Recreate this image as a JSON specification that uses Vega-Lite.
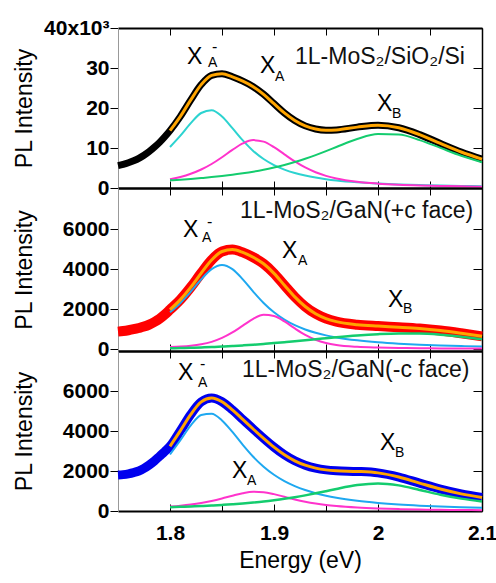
{
  "$schema": "https://vega.github.io/schema/vega-lite/v6.json",
  "padding": {"left": 13, "top": 17, "right": 5, "bottom": 5},
  "spacing": 0,
  "bounds": "flush",
  "config": {
    "view": {"stroke": null},
    "font": "Liberation Sans",
    "axis": {"labelFont": "Liberation Sans", "labelFontSize": 21, "labelFontWeight": "bold", "labelColor": "#000", "titleFont": "Liberation Sans", "titleFontSize": 23, "titleFontWeight": "normal", "titleColor": "#000", "tickColor": "#000", "grid": false, "labelOverlap": false, "labelFlush": false}
  },
  "datasets": {
    "p1": [
      {"e": 1.75, "data": 5600}, {"e": 1.755, "data": 5900}, {"e": 1.76, "data": 6300}, {"e": 1.765, "data": 6800}, {"e": 1.77, "data": 7400}, {"e": 1.775, "data": 8200}, {"e": 1.78, "data": 9100}, {"e": 1.785, "data": 10200}, {"e": 1.79, "data": 11400}, {"e": 1.795, "data": 12800},
      {"e": 1.80, "data": 14330, "fit": 14330, "xam": 10250, "xa": 2170, "xb": 1910},
      {"e": 1.81, "data": 17910, "fit": 17910, "xam": 13090, "xa": 2750, "xb": 2070},
      {"e": 1.82, "data": 22030, "fit": 22030, "xam": 16220, "xa": 3550, "xb": 2260},
      {"e": 1.83, "data": 25850, "fit": 25850, "xam": 18750, "xa": 4620, "xb": 2480},
      {"e": 1.84, "data": 28170, "fit": 28170, "xam": 19450, "xa": 6000, "xb": 2720},
      {"e": 1.85, "data": 28570, "fit": 28570, "xam": 17890, "xa": 7680, "xb": 3000},
      {"e": 1.86, "data": 27800, "fit": 27800, "xam": 14970, "xa": 9520, "xb": 3310},
      {"e": 1.87, "data": 26710, "fit": 26710, "xam": 11890, "xa": 11140, "xb": 3680},
      {"e": 1.88, "data": 25330, "fit": 25330, "xam": 9270, "xa": 11970, "xb": 4090},
      {"e": 1.89, "data": 23420, "fit": 23420, "xam": 7250, "xa": 11600, "xb": 4570},
      {"e": 1.90, "data": 21080, "fit": 21080, "xam": 5730, "xa": 10220, "xb": 5130},
      {"e": 1.91, "data": 18770, "fit": 18770, "xam": 4600, "xa": 8410, "xb": 5760},
      {"e": 1.92, "data": 16870, "fit": 16870, "xam": 3750, "xa": 6640, "xb": 6480},
      {"e": 1.93, "data": 15530, "fit": 15530, "xam": 3100, "xa": 5130, "xb": 7300},
      {"e": 1.94, "data": 14760, "fit": 14760, "xam": 2600, "xa": 3940, "xb": 8220},
      {"e": 1.95, "data": 14460, "fit": 14460, "xam": 2210, "xa": 3040, "xb": 9210},
      {"e": 1.96, "data": 14520, "fit": 14520, "xam": 1890, "xa": 2380, "xb": 10250},
      {"e": 1.98, "data": 15220, "fit": 15220, "xam": 1430, "xa": 1550, "xb": 12240},
      {"e": 2.00, "data": 15690, "fit": 15690, "xam": 1120, "xa": 1090, "xb": 13480},
      {"e": 2.02, "data": 15060, "fit": 15060, "xam": 900, "xa": 810, "xb": 13350},
      {"e": 2.04, "data": 13350, "fit": 13350, "xam": 740, "xa": 630, "xb": 11980},
      {"e": 2.06, "data": 11140, "fit": 11140, "xam": 610, "xa": 510, "xb": 10020},
      {"e": 2.08, "data": 9000, "fit": 9000, "xam": 520, "xa": 410, "xb": 8070},
      {"e": 2.10, "data": 7200, "fit": 7200, "xam": 440, "xa": 340, "xb": 6420}
    ],
    "p2": [
      {"e": 1.75, "data": 870}, {"e": 1.755, "data": 900}, {"e": 1.76, "data": 940}, {"e": 1.765, "data": 990}, {"e": 1.77, "data": 1050}, {"e": 1.775, "data": 1120}, {"e": 1.78, "data": 1220}, {"e": 1.785, "data": 1350}, {"e": 1.79, "data": 1510}, {"e": 1.795, "data": 1720},
      {"e": 1.80, "data": 1965, "fit": 1965, "xam": 1833, "xa": 94, "xb": 38},
      {"e": 1.81, "data": 2468, "fit": 2468, "xam": 2300, "xa": 119, "xb": 49},
      {"e": 1.82, "data": 3091, "fit": 3091, "xam": 2867, "xa": 162, "xb": 62},
      {"e": 1.83, "data": 3795, "fit": 3795, "xam": 3481, "xa": 235, "xb": 79},
      {"e": 1.84, "data": 4451, "fit": 4451, "xam": 3994, "xa": 358, "xb": 99},
      {"e": 1.85, "data": 4875, "fit": 4875, "xam": 4200, "xa": 553, "xb": 122},
      {"e": 1.86, "data": 4971, "fit": 4971, "xam": 3994, "xa": 828, "xb": 149},
      {"e": 1.87, "data": 4829, "fit": 4829, "xam": 3481, "xa": 1168, "xb": 180},
      {"e": 1.88, "data": 4587, "fit": 4587, "xam": 2867, "xa": 1505, "xb": 215},
      {"e": 1.89, "data": 4261, "fit": 4261, "xam": 2300, "xa": 1707, "xb": 254},
      {"e": 1.90, "data": 3782, "fit": 3782, "xam": 1833, "xa": 1653, "xb": 296},
      {"e": 1.91, "data": 3189, "fit": 3189, "xam": 1469, "xa": 1378, "xb": 342},
      {"e": 1.92, "data": 2606, "fit": 2606, "xam": 1189, "xa": 1027, "xb": 390},
      {"e": 1.93, "data": 2123, "fit": 2123, "xam": 975, "xa": 708, "xb": 440},
      {"e": 1.94, "data": 1765, "fit": 1765, "xam": 810, "xa": 465, "xb": 490},
      {"e": 1.95, "data": 1523, "fit": 1523, "xam": 681, "xa": 302, "xb": 540},
      {"e": 1.96, "data": 1369, "fit": 1369, "xam": 579, "xa": 201, "xb": 589},
      {"e": 1.98, "data": 1216, "fit": 1216, "xam": 432, "xa": 108, "xb": 676},
      {"e": 2.00, "data": 1145, "fit": 1145, "xam": 333, "xa": 71, "xb": 741},
      {"e": 2.02, "data": 1091, "fit": 1091, "xam": 264, "xa": 51, "xb": 776},
      {"e": 2.04, "data": 1025, "fit": 1025, "xam": 214, "xa": 39, "xb": 772},
      {"e": 2.06, "data": 922, "fit": 922, "xam": 177, "xa": 30, "xb": 715},
      {"e": 2.08, "data": 786, "fit": 786, "xam": 148, "xa": 24, "xb": 614},
      {"e": 2.10, "data": 634, "fit": 634, "xam": 126, "xa": 20, "xb": 488}
    ],
    "p3": [
      {"e": 1.75, "data": 1800}, {"e": 1.755, "data": 1820}, {"e": 1.76, "data": 1860}, {"e": 1.765, "data": 1920}, {"e": 1.77, "data": 2000}, {"e": 1.775, "data": 2130}, {"e": 1.78, "data": 2300}, {"e": 1.785, "data": 2500}, {"e": 1.79, "data": 2740}, {"e": 1.795, "data": 2980},
      {"e": 1.80, "data": 3234, "fit": 3234, "xam": 2825, "xa": 219, "xb": 190},
      {"e": 1.81, "data": 4017, "fit": 4017, "xam": 3543, "xa": 266, "xb": 208},
      {"e": 1.82, "data": 4833, "fit": 4833, "xam": 4279, "xa": 326, "xb": 228},
      {"e": 1.83, "data": 5456, "fit": 5456, "xam": 4802, "xa": 404, "xb": 250},
      {"e": 1.84, "data": 5648, "fit": 5648, "xam": 4868, "xa": 504, "xb": 276},
      {"e": 1.85, "data": 5463, "fit": 5463, "xam": 4530, "xa": 627, "xb": 306},
      {"e": 1.86, "data": 5057, "fit": 5057, "xam": 3952, "xa": 765, "xb": 340},
      {"e": 1.87, "data": 4578, "fit": 4578, "xam": 3308, "xa": 891, "xb": 379},
      {"e": 1.88, "data": 4099, "fit": 4099, "xam": 2713, "xa": 961, "xb": 425},
      {"e": 1.89, "data": 3632, "fit": 3632, "xam": 2213, "xa": 942, "xb": 477},
      {"e": 1.90, "data": 3194, "fit": 3194, "xam": 1811, "xa": 844, "xb": 539},
      {"e": 1.91, "data": 2812, "fit": 2812, "xam": 1493, "xa": 710, "xb": 609},
      {"e": 1.92, "data": 2510, "fit": 2510, "xam": 1244, "xa": 576, "xb": 690},
      {"e": 1.93, "data": 2291, "fit": 2291, "xam": 1047, "xa": 462, "xb": 782},
      {"e": 1.94, "data": 2144, "fit": 2144, "xam": 890, "xa": 371, "xb": 883},
      {"e": 1.95, "data": 2056, "fit": 2056, "xam": 764, "xa": 300, "xb": 992},
      {"e": 1.96, "data": 2012, "fit": 2012, "xam": 662, "xa": 246, "xb": 1104},
      {"e": 1.98, "data": 1979, "fit": 1979, "xam": 509, "xa": 171, "xb": 1299},
      {"e": 2.00, "data": 1906, "fit": 1906, "xam": 402, "xa": 124, "xb": 1380},
      {"e": 2.02, "data": 1699, "fit": 1699, "xam": 324, "xa": 94, "xb": 1281},
      {"e": 2.04, "data": 1394, "fit": 1394, "xam": 267, "xa": 73, "xb": 1054},
      {"e": 2.06, "data": 1097, "fit": 1097, "xam": 224, "xa": 59, "xb": 814},
      {"e": 2.08, "data": 856, "fit": 856, "xam": 190, "xa": 48, "xb": 618},
      {"e": 2.10, "data": 674, "fit": 674, "xam": 163, "xa": 40, "xb": 471}
    ],
    "ann": [
      {"p": 1, "k": "main", "t": "X", "e": 1.8163, "i": 31000},
      {"p": 1, "k": "sub", "t": "A", "e": 1.8365, "i": 30300},
      {"p": 1, "k": "sup", "t": "-", "e": 1.8404, "i": 34000},
      {"p": 1, "k": "main", "t": "X", "e": 1.8865, "i": 28800},
      {"p": 1, "k": "sub", "t": "A", "e": 1.901, "i": 26800},
      {"p": 1, "k": "main", "t": "X", "e": 1.999, "i": 19300},
      {"p": 1, "k": "sub", "t": "B", "e": 2.0135, "i": 17600},
      {"p": 1, "k": "label", "t": "1L-MoS₂/SiO₂/Si", "e": 1.9202, "i": 30900},
      {"p": 2, "k": "main", "t": "X", "e": 1.8125, "i": 5585},
      {"p": 2, "k": "sub", "t": "A", "e": 1.8308, "i": 5335},
      {"p": 2, "k": "sup", "t": "-", "e": 1.8356, "i": 6125},
      {"p": 2, "k": "main", "t": "X", "e": 1.9077, "i": 4535},
      {"p": 2, "k": "sub", "t": "A", "e": 1.9231, "i": 4185},
      {"p": 2, "k": "main", "t": "X", "e": 2.0096, "i": 2085},
      {"p": 2, "k": "sub", "t": "B", "e": 2.024, "i": 1785},
      {"p": 2, "k": "label", "t": "1L-MoS₂/GaN(+c face)", "e": 1.8673, "i": 6535},
      {"p": 3, "k": "main", "t": "X", "e": 1.8077, "i": 6550},
      {"p": 3, "k": "sub", "t": "A", "e": 1.8269, "i": 6200},
      {"p": 3, "k": "sup", "t": "-", "e": 1.8288, "i": 7100},
      {"p": 3, "k": "main", "t": "X", "e": 1.8596, "i": 1650},
      {"p": 3, "k": "sub", "t": "A", "e": 1.874, "i": 1300},
      {"p": 3, "k": "main", "t": "X", "e": 2.0019, "i": 3050},
      {"p": 3, "k": "sub", "t": "B", "e": 2.0163, "i": 2700},
      {"p": 3, "k": "label", "t": "1L-MoS₂/GaN(-c face)", "e": 1.8692, "i": 6700}
    ]
  },
  "vconcat": [
    {
      "width": 364, "height": 160,
      "layer": [
        {"data": {"name": "p1"}, "mark": {"type": "line", "color": "#000000", "strokeWidth": 7, "interpolate": "monotone"},
         "encoding": {
           "x": {"field": "e", "type": "quantitative", "scale": {"domain": [1.75, 2.1], "nice": false, "zero": false},
                 "axis": {"orient": "bottom", "values": [1.8, 1.85, 1.9, 1.95, 2, 2.05, 2.1], "labels": false, "tickSize": -7, "title": null, "domainColor": "#000", "domainWidth": 2}},
           "y": {"field": "data", "type": "quantitative", "scale": {"domain": [0, 40000], "nice": false, "zero": false},
                 "axis": {"orient": "left", "values": [0, 10000, 20000, 30000, 40000], "labelExpr": "datum.value == 40000 ? '40x10³' : format(datum.value/1000, 'd')", "tickSize": 8, "labelPadding": 1, "domainColor": "#999", "title": "PL Intensity", "titleX": -82}}
         }},
        {"data": {"name": "p1"}, "mark": {"type": "line", "color": "#2CD3D0", "strokeWidth": 2, "interpolate": "monotone"},
         "encoding": {"x": {"field": "e", "type": "quantitative", "axis": null}, "y": {"field": "xam", "type": "quantitative", "axis": null}}},
        {"data": {"name": "p1"}, "mark": {"type": "line", "color": "#FF33CC", "strokeWidth": 2, "interpolate": "monotone"},
         "encoding": {"x": {"field": "e", "type": "quantitative", "axis": null}, "y": {"field": "xa", "type": "quantitative", "axis": null}}},
        {"data": {"name": "p1"}, "mark": {"type": "line", "color": "#14CC6E", "strokeWidth": 2, "interpolate": "monotone"},
         "encoding": {"x": {"field": "e", "type": "quantitative", "axis": null}, "y": {"field": "xb", "type": "quantitative", "axis": null}}},
        {"data": {"name": "p1"}, "mark": {"type": "line", "color": "#FFA500", "strokeWidth": 3, "interpolate": "monotone"},
         "encoding": {
           "x": {"field": "e", "type": "quantitative", "axis": {"orient": "top", "values": [1.8, 1.85, 1.9, 1.95, 2, 2.05, 2.1], "labels": false, "tickSize": -7, "title": null, "domainColor": "#000", "domainWidth": 2}},
           "y": {"field": "fit", "type": "quantitative", "axis": {"orient": "right", "values": [0, 10000, 20000, 30000, 40000], "labels": false, "tickSize": -9, "title": null, "domainColor": "#000", "domainWidth": 1.5}}
         }},
        {"data": {"name": "ann"}, "transform": [{"filter": "datum.p == 1 && datum.k == 'main'"}], "mark": {"type": "text", "fontSize": 23, "align": "left", "baseline": "alphabetic", "color": "#000"},
         "encoding": {"x": {"field": "e", "type": "quantitative", "axis": null}, "y": {"field": "i", "type": "quantitative", "axis": null}, "text": {"field": "t"}}},
        {"data": {"name": "ann"}, "transform": [{"filter": "datum.p == 1 && datum.k == 'sub'"}], "mark": {"type": "text", "fontSize": 14, "align": "left", "baseline": "alphabetic", "color": "#000"},
         "encoding": {"x": {"field": "e", "type": "quantitative", "axis": null}, "y": {"field": "i", "type": "quantitative", "axis": null}, "text": {"field": "t"}}},
        {"data": {"name": "ann"}, "transform": [{"filter": "datum.p == 1 && datum.k == 'sup'"}], "mark": {"type": "text", "fontSize": 16, "align": "left", "baseline": "alphabetic", "color": "#000"},
         "encoding": {"x": {"field": "e", "type": "quantitative", "axis": null}, "y": {"field": "i", "type": "quantitative", "axis": null}, "text": {"field": "t"}}},
        {"data": {"name": "ann"}, "transform": [{"filter": "datum.p == 1 && datum.k == 'label'"}], "mark": {"type": "text", "fontSize": 23, "align": "left", "baseline": "alphabetic", "color": "#111"},
         "encoding": {"x": {"field": "e", "type": "quantitative", "axis": null}, "y": {"field": "i", "type": "quantitative", "axis": null}, "text": {"field": "t"}}}
      ],
      "resolve": {"axis": {"x": "independent", "y": "independent"}}
    },
    {
      "width": 364, "height": 163,
      "layer": [
        {"data": {"name": "p2"}, "mark": {"type": "line", "color": "#FF0000", "strokeWidth": 10, "interpolate": "monotone"},
         "encoding": {
           "x": {"field": "e", "type": "quantitative", "scale": {"domain": [1.75, 2.1], "nice": false, "zero": false},
                 "axis": {"orient": "bottom", "values": [1.8, 1.85, 1.9, 1.95, 2, 2.05, 2.1], "labels": false, "tickSize": -7, "title": null, "domainColor": "#000", "domainWidth": 2}},
           "y": {"field": "data", "type": "quantitative", "scale": {"domain": [-100, 8050], "nice": false, "zero": false},
                 "axis": {"orient": "left", "values": [0, 2000, 4000, 6000], "format": "d", "tickSize": 8, "labelPadding": 1, "domainColor": "#999", "title": "PL Intensity", "titleX": -82}}
         }},
        {"data": {"name": "p2"}, "mark": {"type": "line", "color": "#1EA8F0", "strokeWidth": 2, "interpolate": "monotone"},
         "encoding": {"x": {"field": "e", "type": "quantitative", "axis": null}, "y": {"field": "xam", "type": "quantitative", "axis": null}}},
        {"data": {"name": "p2"}, "mark": {"type": "line", "color": "#FF33CC", "strokeWidth": 2, "interpolate": "monotone"},
         "encoding": {"x": {"field": "e", "type": "quantitative", "axis": null}, "y": {"field": "xa", "type": "quantitative", "axis": null}}},
        {"data": {"name": "p2"}, "mark": {"type": "line", "color": "#14CC6E", "strokeWidth": 2.5, "interpolate": "monotone"},
         "encoding": {"x": {"field": "e", "type": "quantitative", "axis": null}, "y": {"field": "xb", "type": "quantitative", "axis": null}}},
        {"data": {"name": "p2"}, "mark": {"type": "line", "color": "#FFA500", "strokeWidth": 3, "interpolate": "monotone"},
         "encoding": {
           "x": {"field": "e", "type": "quantitative", "axis": {"orient": "top", "values": [1.8, 1.85, 1.9, 1.95, 2, 2.05, 2.1], "labels": false, "tickSize": -7, "title": null, "domainColor": "#000", "domainWidth": 2}},
           "y": {"field": "fit", "type": "quantitative", "axis": {"orient": "right", "values": [0, 2000, 4000, 6000], "labels": false, "tickSize": -9, "title": null, "domainColor": "#000", "domainWidth": 1.5}}
         }},
        {"data": {"name": "ann"}, "transform": [{"filter": "datum.p == 2 && datum.k == 'main'"}], "mark": {"type": "text", "fontSize": 23, "align": "left", "baseline": "alphabetic", "color": "#000"},
         "encoding": {"x": {"field": "e", "type": "quantitative", "axis": null}, "y": {"field": "i", "type": "quantitative", "axis": null}, "text": {"field": "t"}}},
        {"data": {"name": "ann"}, "transform": [{"filter": "datum.p == 2 && datum.k == 'sub'"}], "mark": {"type": "text", "fontSize": 14, "align": "left", "baseline": "alphabetic", "color": "#000"},
         "encoding": {"x": {"field": "e", "type": "quantitative", "axis": null}, "y": {"field": "i", "type": "quantitative", "axis": null}, "text": {"field": "t"}}},
        {"data": {"name": "ann"}, "transform": [{"filter": "datum.p == 2 && datum.k == 'sup'"}], "mark": {"type": "text", "fontSize": 16, "align": "left", "baseline": "alphabetic", "color": "#000"},
         "encoding": {"x": {"field": "e", "type": "quantitative", "axis": null}, "y": {"field": "i", "type": "quantitative", "axis": null}, "text": {"field": "t"}}},
        {"data": {"name": "ann"}, "transform": [{"filter": "datum.p == 2 && datum.k == 'label'"}], "mark": {"type": "text", "fontSize": 23, "align": "left", "baseline": "alphabetic", "color": "#111"},
         "encoding": {"x": {"field": "e", "type": "quantitative", "axis": null}, "y": {"field": "i", "type": "quantitative", "axis": null}, "text": {"field": "t"}}}
      ],
      "resolve": {"axis": {"x": "independent", "y": "independent"}}
    },
    {
      "width": 364, "height": 160,
      "layer": [
        {"data": {"name": "p3"}, "mark": {"type": "line", "color": "#0000EE", "strokeWidth": 9, "interpolate": "monotone"},
         "encoding": {
           "x": {"field": "e", "type": "quantitative", "scale": {"domain": [1.75, 2.1], "nice": false, "zero": false},
                 "axis": {"orient": "bottom", "values": [1.8, 1.85, 1.9, 1.95, 2, 2.05, 2.1], "format": ".2~f", "labelExpr": "datum.label == '1.8' || datum.label == '1.9' || datum.label == '2' || datum.label == '2.1' ? datum.label : ''", "tickSize": -7, "labelPadding": 18, "domainColor": "#000", "domainWidth": 2, "title": "Energy (eV)", "titlePadding": 6}},
           "y": {"field": "data", "type": "quantitative", "scale": {"domain": [0, 8000], "nice": false, "zero": false},
                 "axis": {"orient": "left", "values": [0, 2000, 4000, 6000], "format": "d", "tickSize": 8, "labelPadding": 1, "domainColor": "#999", "title": "PL Intensity", "titleX": -82}}
         }},
        {"data": {"name": "p3"}, "mark": {"type": "line", "color": "#1EA8F0", "strokeWidth": 2, "interpolate": "monotone"},
         "encoding": {"x": {"field": "e", "type": "quantitative", "axis": null}, "y": {"field": "xam", "type": "quantitative", "axis": null}}},
        {"data": {"name": "p3"}, "mark": {"type": "line", "color": "#FF33CC", "strokeWidth": 2, "interpolate": "monotone"},
         "encoding": {"x": {"field": "e", "type": "quantitative", "axis": null}, "y": {"field": "xa", "type": "quantitative", "axis": null}}},
        {"data": {"name": "p3"}, "mark": {"type": "line", "color": "#14CC6E", "strokeWidth": 2.5, "interpolate": "monotone"},
         "encoding": {"x": {"field": "e", "type": "quantitative", "axis": null}, "y": {"field": "xb", "type": "quantitative", "axis": null}}},
        {"data": {"name": "p3"}, "mark": {"type": "line", "color": "#FFA500", "strokeWidth": 3, "interpolate": "monotone"},
         "encoding": {
           "x": {"field": "e", "type": "quantitative", "axis": {"orient": "top", "values": [1.8, 1.85, 1.9, 1.95, 2, 2.05, 2.1], "labels": false, "tickSize": -7, "title": null, "domainColor": "#000", "domainWidth": 2}},
           "y": {"field": "fit", "type": "quantitative", "axis": {"orient": "right", "values": [0, 2000, 4000, 6000], "labels": false, "tickSize": -9, "title": null, "domainColor": "#000", "domainWidth": 1.5}}
         }},
        {"data": {"name": "ann"}, "transform": [{"filter": "datum.p == 3 && datum.k == 'main'"}], "mark": {"type": "text", "fontSize": 23, "align": "left", "baseline": "alphabetic", "color": "#000"},
         "encoding": {"x": {"field": "e", "type": "quantitative", "axis": null}, "y": {"field": "i", "type": "quantitative", "axis": null}, "text": {"field": "t"}}},
        {"data": {"name": "ann"}, "transform": [{"filter": "datum.p == 3 && datum.k == 'sub'"}], "mark": {"type": "text", "fontSize": 14, "align": "left", "baseline": "alphabetic", "color": "#000"},
         "encoding": {"x": {"field": "e", "type": "quantitative", "axis": null}, "y": {"field": "i", "type": "quantitative", "axis": null}, "text": {"field": "t"}}},
        {"data": {"name": "ann"}, "transform": [{"filter": "datum.p == 3 && datum.k == 'sup'"}], "mark": {"type": "text", "fontSize": 16, "align": "left", "baseline": "alphabetic", "color": "#000"},
         "encoding": {"x": {"field": "e", "type": "quantitative", "axis": null}, "y": {"field": "i", "type": "quantitative", "axis": null}, "text": {"field": "t"}}},
        {"data": {"name": "ann"}, "transform": [{"filter": "datum.p == 3 && datum.k == 'label'"}], "mark": {"type": "text", "fontSize": 23, "align": "left", "baseline": "alphabetic", "color": "#111"},
         "encoding": {"x": {"field": "e", "type": "quantitative", "axis": null}, "y": {"field": "i", "type": "quantitative", "axis": null}, "text": {"field": "t"}}}
      ],
      "resolve": {"axis": {"x": "independent", "y": "independent"}}
    }
  ]
}
